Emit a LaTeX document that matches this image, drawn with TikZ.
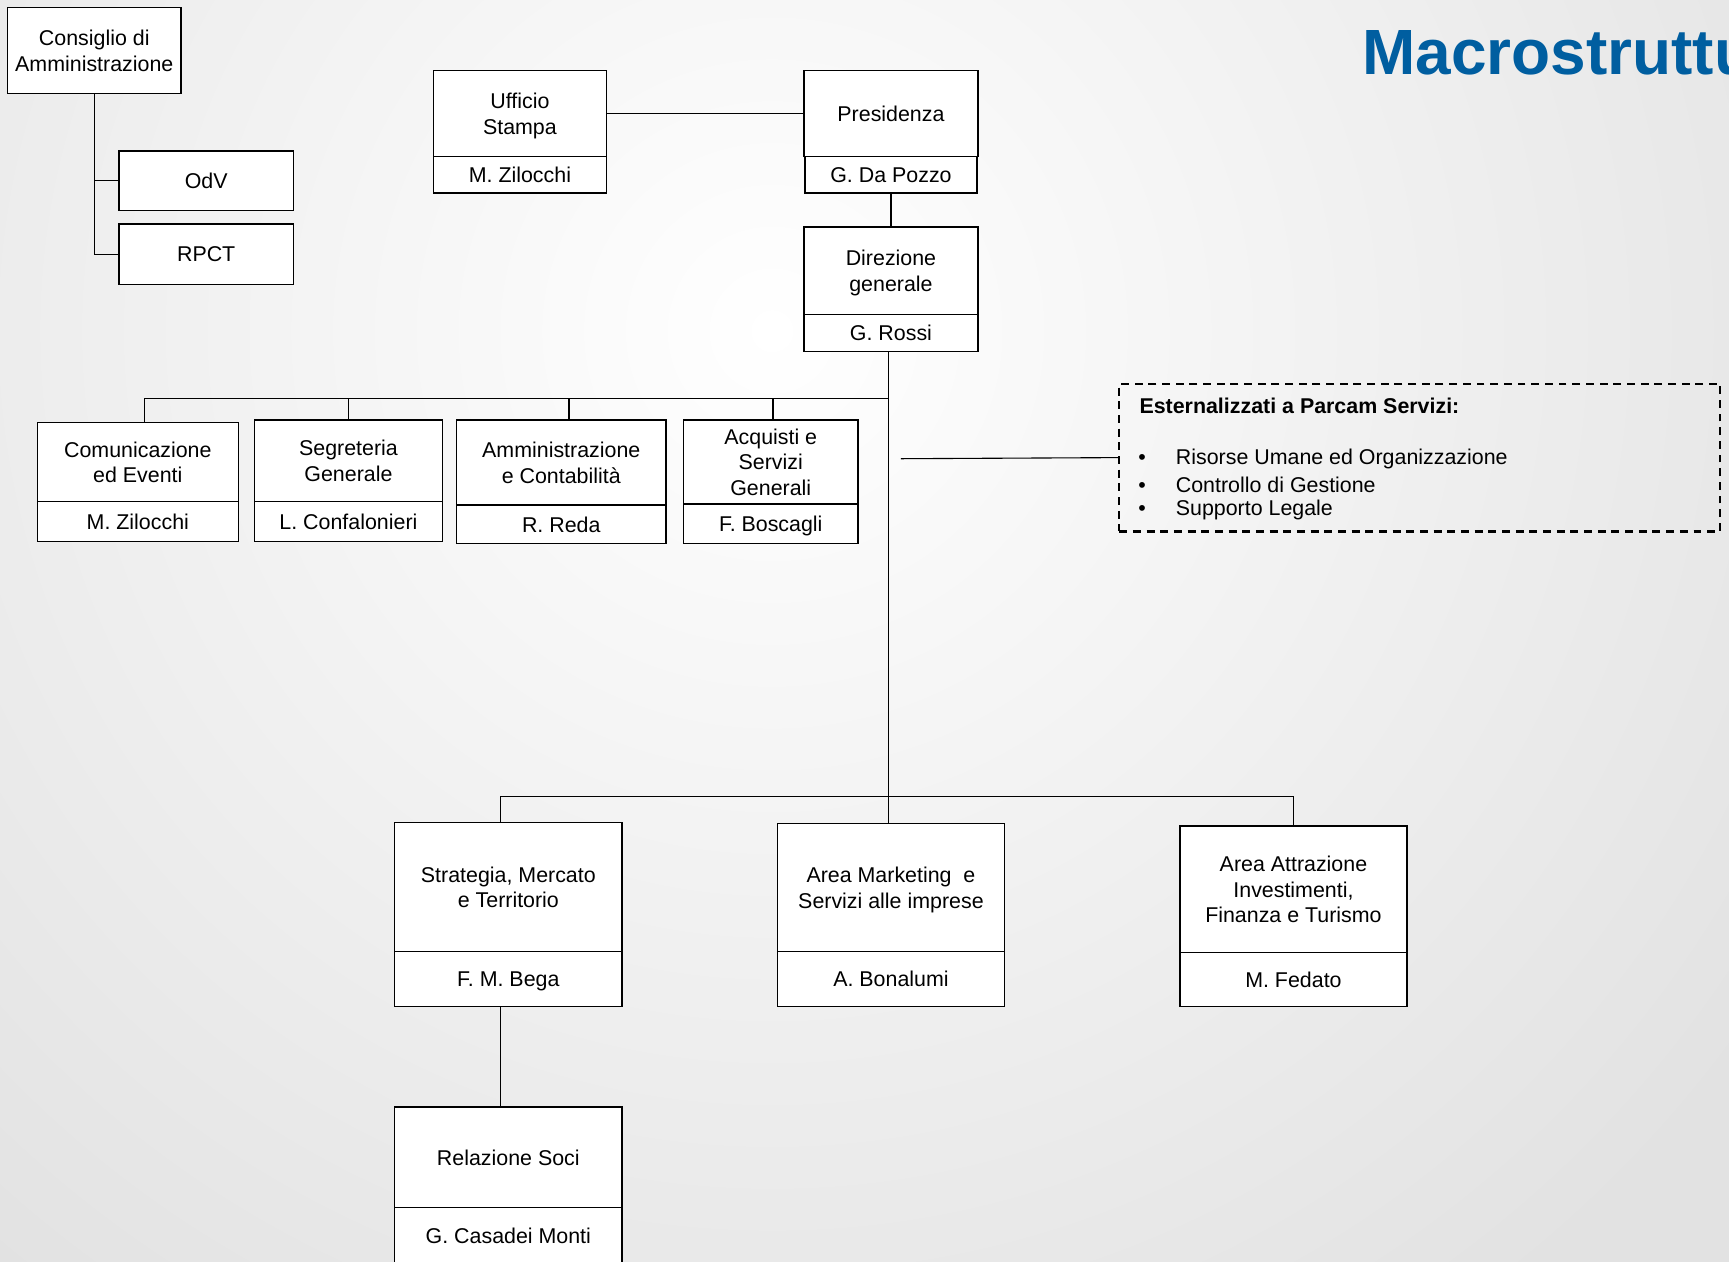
\documentclass[tikz,border=0pt]{standalone}
\usepackage{fontspec}
\setmainfont{Liberation Sans}
\definecolor{titleblue}{RGB}{0,94,160}
\definecolor{bggray}{RGB}{226,226,226}
\begin{document}
\begin{tikzpicture}[x=0.5pt,y=-0.5pt,
  bx/.style 2 args={draw=black, fill=white, line width=0.6pt, inner sep=0pt, align=center,
    text depth=0pt, minimum width=#1, minimum height=#2, font=\fontsize{9.7}{11.5}\selectfont},
  conn/.style={draw=black, line width=0.5pt},
  lbl/.style={inner sep=0pt, anchor=west, font=\fontsize{9.7}{11.5}\selectfont},
  extbox/.style={draw=black, line width=1pt, dash pattern=on 3.6pt off 2.6pt, inner sep=0pt,
    minimum width=272.5pt, minimum height=67pt}]
\useasboundingbox (0,0) rectangle (1568,1144);
\begin{scope}
  \clip (0,0) rectangle (1568,1144);
  \shade[inner color=white, outer color=bggray] (-400,-800) rectangle (1800,1400);
\end{scope}

% title
\node[anchor=base west, inner sep=0pt, font=\fontsize{29}{34}\selectfont\bfseries, text=titleblue] (title) at (1235,68) {Macrostruttura};

% Consiglio di Amministrazione
\node[bx={78.5pt}{39pt}] (cda) at (85.5,46) {Consiglio di\\Amministrazione};
\node[bx={79pt}{27pt}] (odv) at (187,164) {OdV};
\node[bx={79pt}{27.5pt}] (rpct) at (187,230.5) {RPCT};

% Ufficio Stampa
\node[bx={78.5pt}{39pt}] (uff) at (471.5,103) {Ufficio\\Stampa};
\node[bx={78.5pt}{16.5pt}] (uffn) at (471.5,158.5) {M. Zilocchi};

% Presidenza
\node[bx={79pt}{39pt}] (pres) at (808,103) {Presidenza};
\node[bx={78pt}{16.5pt}] (presn) at (808,158.5) {G. Da Pozzo};

% Direzione generale
\node[bx={79pt}{39.5pt}] (dir) at (808,245.5) {Direzione\\generale};
\node[bx={79pt}{17pt}] (dirn) at (808,302) {G. Rossi};

% staff row
\node[bx={91pt}{36pt}] (com) at (125,419) {Comunicazione\\ed Eventi};
\node[bx={91pt}{18pt}] (comn) at (125,473) {M. Zilocchi};
\node[bx={85pt}{37pt}] (seg) at (316,418) {Segreteria\\Generale};
\node[bx={85pt}{18pt}] (segn) at (316,473) {L. Confalonieri};
\node[bx={95pt}{38.5pt}] (amm) at (509,419.5) {Amministrazione\\e Contabilità};
\node[bx={95pt}{17.5pt}] (ammn) at (509,475.5) {R. Reda};
\node[bx={79pt}{38pt}] (acq) at (699,419) {Acquisti e\\Servizi\\Generali};
\node[bx={79pt}{18pt}] (acqn) at (699,475) {F. Boscagli};

% outsourced box
\node[extbox] (ext) at (1287.5,415) {};
\node[lbl] (exttitle) at (1033,368) {\bfseries Esternalizzati a Parcam Servizi:};
\node[lbl] (ext1) at (1032,416.5) {\makebox[17pt][l]{\textbullet}Risorse Umane ed Organizzazione};
\node[lbl] (ext2) at (1032,439.5) {\makebox[17pt][l]{\textbullet}Controllo di Gestione};
\node[lbl] (ext3) at (1032,462.5) {\makebox[17pt][l]{\textbullet}Supporto Legale};
\coordinate (extstart) at (817,416);

% areas
\node[bx={103pt}{58.5pt}] (str) at (461,804.5) {Strategia, Mercato\\e Territorio};
\node[bx={103pt}{25pt}] (strn) at (461,888) {F. M. Bega};
\node[bx={103pt}{58pt}] (mkt) at (808,805) {Area Marketing\ \ e\\Servizi alle imprese};
\node[bx={103pt}{25pt}] (mktn) at (808,888) {A. Bonalumi};
\node[bx={103pt}{57.5pt}] (att) at (1173,806.5) {Area Attrazione\\Investimenti,\\Finanza e Turismo};
\node[bx={103pt}{24.5pt}] (attn) at (1173,888.5) {M. Fedato};
\node[bx={103pt}{45.5pt}] (rel) at (461,1049.5) {Relazione Soci};
\node[bx={103pt}{26pt}] (reln) at (461,1121) {G. Casadei Monti};

% connectors
\draw[conn] (cda.south) |- (odv.west);
\draw[conn] (cda.south) |- (rpct.west);
\draw[conn] (uff.east) -- (pres.west);
\draw[conn] (presn.south) -- (dir.north);
\draw[conn] ([xshift=-1pt]dirn.south) -- ([xshift=-1pt]mkt.north);
\coordinate (busA) at (806,361);
\draw[conn] (busA) -| ([xshift=3pt]com.north);
\draw[conn] (busA) -| (seg.north);
\draw[conn] (busA) -| ([xshift=3.5pt]amm.north);
\draw[conn] (busA) -| ([xshift=1pt]acq.north);
\draw[conn] (extstart) -- (ext.west);
\coordinate (busB) at (806,722);
\draw[conn] (busB) -| ([xshift=-3.5pt]str.north);
\draw[conn] (busB) -| (att.north);
\draw[conn] ([xshift=-3.5pt]strn.south) -- ([xshift=-3.5pt]rel.north);
\end{tikzpicture}
\end{document}
